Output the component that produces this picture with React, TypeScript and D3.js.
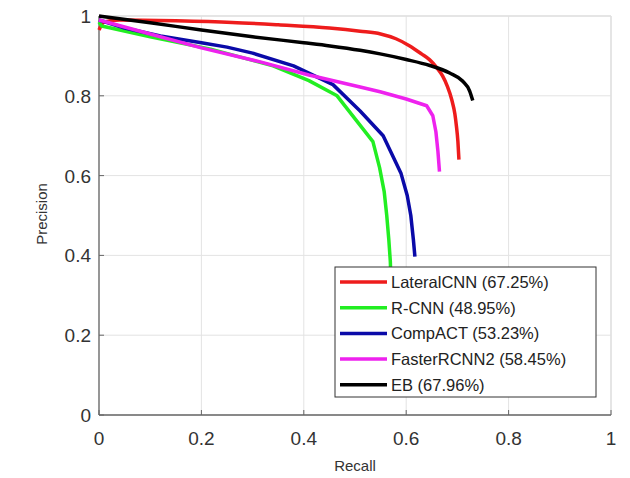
import React from "react";
import * as d3 from "d3";

const xTicks = [0, 0.2, 0.4, 0.6, 0.8, 1];
const yTicks = [0, 0.2, 0.4, 0.6, 0.8, 1];
const xTickLabels = ["0", "0.2", "0.4", "0.6", "0.8", "1"];
const yTickLabels = ["0", "0.2", "0.4", "0.6", "0.8", "1"];

const seriesNames = ["LateralCNN (67.25%)", "R-CNN (48.95%)", "CompACT (53.23%)", "FasterRCNN2 (58.45%)", "EB (67.96%)"];
const seriesColors = ["#ee1c1c", "#22ee22", "#0a0aa8", "#ee22ee", "#000000"];
const seriesSmooth = [true, false, false, false, true];

// [recall, precision]
const lateralCNN: [number, number][] = [
  [0, 0.965], [0.01, 0.985], [0.04, 0.99], [0.15, 0.988], [0.26, 0.984], [0.35, 0.978], [0.45, 0.97],
  [0.51, 0.962], [0.55, 0.955], [0.58, 0.943], [0.607, 0.925], [0.63, 0.905], [0.646, 0.89], [0.66, 0.87],
  [0.671, 0.85], [0.68, 0.825], [0.689, 0.79], [0.695, 0.755], [0.698, 0.725], [0.701, 0.685], [0.703, 0.64],
];
const rcnn: [number, number][] = [
  [0, 0.985], [0.005, 0.975], [0.023, 0.97], [0.1, 0.948], [0.218, 0.917], [0.34, 0.875], [0.41, 0.838],
  [0.465, 0.8], [0.535, 0.685], [0.548, 0.62], [0.557, 0.56], [0.562, 0.5], [0.566, 0.44], [0.569, 0.385], [0.571, 0.3],
];
const compACT: [number, number][] = [
  [0, 0.99], [0.05, 0.97], [0.12, 0.95], [0.2, 0.933], [0.25, 0.922], [0.3, 0.907], [0.38, 0.875], [0.457, 0.828],
  [0.51, 0.762], [0.555, 0.7], [0.59, 0.605], [0.602, 0.55], [0.609, 0.5], [0.614, 0.44], [0.617, 0.397],
];
const fasterRCNN2: [number, number][] = [
  [0, 0.99], [0.1, 0.955], [0.2, 0.92], [0.315, 0.885], [0.41, 0.852], [0.51, 0.822],
  [0.549, 0.81], [0.6, 0.792], [0.64, 0.775], [0.652, 0.75], [0.658, 0.71], [0.662, 0.66], [0.665, 0.61],
];
const eb: [number, number][] = [
  [0, 1.0], [0.1, 0.983], [0.2, 0.965], [0.3, 0.948], [0.4, 0.933], [0.451, 0.925], [0.51, 0.914],
  [0.549, 0.905], [0.6, 0.891], [0.646, 0.876], [0.685, 0.857], [0.71, 0.837], [0.724, 0.812], [0.73, 0.788],
];
const seriesData = [lateralCNN, rcnn, compACT, fasterRCNN2, eb];

const W = 630;
const H = 478;
const left = 99, right = 611, top = 16, bottom = 415;

export default function App() {
  const x = d3.scaleLinear().domain([0, 1]).range([left, right]);
  const y = d3.scaleLinear().domain([0, 1]).range([bottom, top]);
  const smoothLine = d3
    .line<[number, number]>()
    .x((d) => x(d[0]))
    .y((d) => y(d[1]))
    .curve(d3.curveMonotoneX);
  const straightLine = d3
    .line<[number, number]>()
    .x((d) => x(d[0]))
    .y((d) => y(d[1]))
    .curve(d3.curveLinear);

  const font = "Liberation Sans, Arial, sans-serif";
  const legX = 335, legY = 267, legW = 261, legH = 130, rowH = 25.7;

  return (
    <svg width={W} height={H} style={{ position: "absolute", left: 0, top: 0, background: "#fff" }} fontFamily={font}>
      <rect x={0} y={0} width={W} height={H} fill="#fff" />
      {/* grid */}
      {xTicks.map((t, i) => (
        <line key={"gx" + i} x1={x(t)} x2={x(t)} y1={top} y2={bottom} stroke="#e3e3e3" strokeWidth={1} />
      ))}
      {yTicks.map((t, i) => (
        <line key={"gy" + i} x1={left} x2={right} y1={y(t)} y2={y(t)} stroke="#e3e3e3" strokeWidth={1} />
      ))}
      {/* box top/right */}
      <line x1={left} x2={right} y1={top} y2={top} stroke="#e0e0e0" strokeWidth={1.5} />
      <line x1={right} x2={right} y1={top} y2={bottom} stroke="#e0e0e0" strokeWidth={1.5} />
      {/* axes */}
      <line x1={left} x2={right} y1={bottom} y2={bottom} stroke="#666" strokeWidth={1.3} />
      <line x1={left} x2={left} y1={top} y2={bottom} stroke="#666" strokeWidth={1.3} />
      {xTicks.map((t, i) => (
        <line key={"tx" + i} x1={x(t)} x2={x(t)} y1={bottom} y2={bottom - 5} stroke="#666" strokeWidth={1} />
      ))}
      {yTicks.map((t, i) => (
        <line key={"ty" + i} x1={left} x2={left + 5} y1={y(t)} y2={y(t)} stroke="#666" strokeWidth={1} />
      ))}
      {/* tick labels */}
      {xTicks.map((t, i) => (
        <text key={"lx" + i} x={x(t)} y={bottom + 30} textAnchor="middle" fontSize={19} fill="#333">
          {xTickLabels[i]}
        </text>
      ))}
      {yTicks.map((t, i) => (
        <text key={"ly" + i} x={left - 8} y={y(t) + 7} textAnchor="end" fontSize={19} fill="#333">
          {yTickLabels[i]}
        </text>
      ))}
      <text x={355} y={471} textAnchor="middle" fontSize={15} fill="#333">Recall</text>
      <text transform={`translate(47,214) rotate(-90)`} textAnchor="middle" fontSize={15} fill="#333">Precision</text>
      {/* series */}
      <g>
        {seriesData.map((d, i) => (
          <path
            key={"s" + i}
            d={(seriesSmooth[i] ? smoothLine(d) : straightLine(d)) || ""}
            fill="none"
            stroke={seriesColors[i]}
            strokeWidth={3.5}
            strokeLinejoin="round"
            strokeLinecap="butt"
          />
        ))}
      </g>
      {/* legend */}
      <rect x={legX} y={legY} width={legW} height={legH} fill="#fff" stroke="#333" strokeWidth={1} />
      {seriesNames.map((n, i) => {
        const cy = legY + 15 + i * rowH;
        return (
          <g key={"lg" + i}>
            <line x1={legX + 5} x2={legX + 52} y1={cy} y2={cy} stroke={seriesColors[i]} strokeWidth={3.5} />
            <text x={legX + 56} y={cy + 6} fontSize={16.5} fill="#222">{n}</text>
          </g>
        );
      })}
    </svg>
  );
}
